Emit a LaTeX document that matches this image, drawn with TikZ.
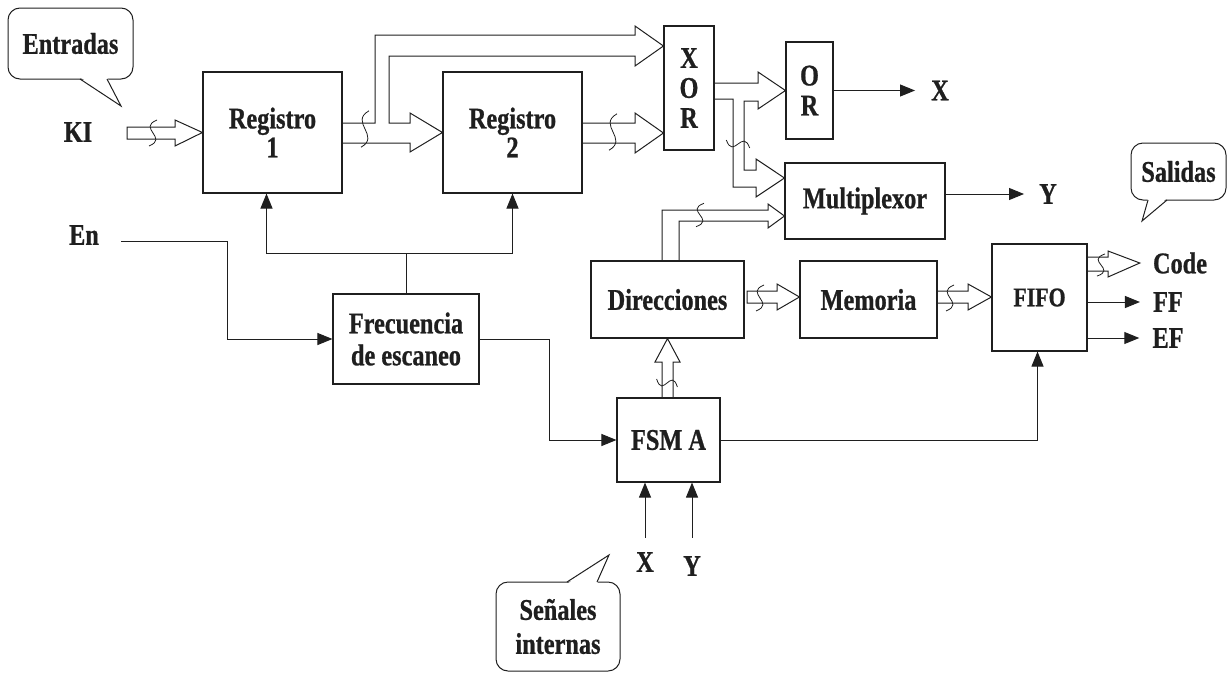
\documentclass[tikz,border=0pt]{standalone}
\usepackage{fontspec}
\setmainfont{Liberation Serif}[FakeStretch=0.81, BoldFeatures={FakeBold=0.8}]
\usetikzlibrary{arrows.meta}

\begin{document}
\begin{tikzpicture}[x=1pt, y=-1pt, color=black!88,
    font=\fontsize{30}{29}\selectfont\bfseries,
    bloque/.style={draw, line width=1.1pt, inner sep=0pt, align=center},
    etiqueta/.style={inner sep=0pt},
    globo/.style={draw, line width=1pt, rounded corners=12pt, inner sep=0pt, align=center},
    sig/.style={line width=1pt, -{Triangle[length=15pt,width=12pt]}},
    bus/.style={line width=1pt, line join=miter},
    fino/.style={line width=0.8pt},
    quiebre/.pic={\draw[fino] (4,-13) .. controls (-16,-5) and (16,5) .. (-4,13);}]
    \useasboundingbox (0,0) rectangle (1230,672);

    % Bloques
    \node[bloque, minimum width=139, minimum height=121] (reg1) at (272.5,132.5) {Registro\\1};
    \node[bloque, minimum width=139, minimum height=121] (reg2) at (512.5,132.5) {Registro\\2};
    \node[bloque, minimum width=50, minimum height=124, font=\fontsize{30}{30}\selectfont\bfseries] (xor) at (689,88) {X\\O\\R};
    \node[bloque, minimum width=47, minimum height=97, font=\fontsize{30}{30}\selectfont\bfseries] (or) at (809.5,90.5) {O\\R};
    \node[bloque, minimum width=160, minimum height=76] (mux) at (865,201) {Multiplexor};
    \node[bloque, minimum width=153, minimum height=77] (dir) at (667.5,299.5) {Direcciones};
    \node[bloque, minimum width=137, minimum height=77] (mem) at (868.5,299.5) {Memoria};
    \node[bloque, minimum width=95, minimum height=107, font=\fontsize{27}{27}\selectfont\bfseries] (fifo) at (1039.5,297.5) {FIFO};
    \node[bloque, minimum width=146, minimum height=90, font=\fontsize{30}{32}\selectfont\bfseries] (frec) at (406,339) {Frecuencia\\de escaneo};
    \node[bloque, minimum width=103, minimum height=84] (fsm) at (668.5,440) {FSM A};

    % Etiquetas de entrada y salida
    \node[etiqueta] (ki) at (78,132) {KI};
    \node[etiqueta] (en) at (84,235) {En};
    \node[etiqueta] (xo) at (940,90.5) {X};
    \node[etiqueta] (yo) at (1048,194) {Y};
    \node[etiqueta] (code) at (1180,263) {Code};
    \node[etiqueta] (ff) at (1168,302) {FF};
    \node[etiqueta] (ef) at (1168,338) {EF};
    \node[etiqueta] (xi) at (645,562) {X};
    \node[etiqueta] (yi) at (692,566) {Y};

    % Globos
    \node[globo, minimum width=125, minimum height=71] (entradas) at (70.5,43.5) {Entradas};
    \node[globo, minimum width=95, minimum height=57] (salidas) at (1178.5,171.5) {Salidas};
    \node[globo, minimum width=124, minimum height=89, font=\fontsize{30}{34}\selectfont\bfseries] (senales) at (558,626.5) {Señales\\internas};
    \fill[white] (80,77) -- (121,106) -- (107,77) -- cycle;
    \draw[line width=1pt] (80,79) -- (121,106) -- (107,79);
    \fill[white] (1148,198) -- (1142,221) -- (1167,198) -- cycle;
    \draw[line width=1pt] (1148,200) -- (1142,221) -- (1167,200);
    \fill[white] (567,584) -- (609,555) -- (597,584) -- cycle;
    \draw[line width=1pt] (567,582) -- (609,555) -- (597,582);

    % Buses
    \draw[bus] (127,127) -- (175,127) -- (175,120) -- (reg1.west) -- (175,146) -- (175,139) -- (127,139) -- cycle;
    \draw[bus] (reg1.east |- 0,123) -- (375,123) -- (375,35) -- (635,35) -- (635,26) -- (xor.west |- 0,46)
        -- (635,66) -- (635,56) -- (389,56) -- (389,123) -- (410,123) -- (410,113) -- (reg2.west)
        -- (410,152) -- (410,143) -- (reg1.east |- 0,143);
    \draw[bus] (reg2.east |- 0,123) -- (635,123) -- (635,113) -- (xor.west |- 0,133) -- (635,153) -- (635,143) -- (reg2.east |- 0,143);
    \draw[bus] (xor.east |- 0,83) -- (758,83) -- (758,72) -- (or.west) -- (758,109) -- (758,101) -- (744,101)
        -- (744,170) -- (756,170) -- (756,159) -- (mux.west |- 0,178) -- (756,197) -- (756,187) -- (733,187)
        -- (733,99) -- (xor.east |- 0,99);
    \draw[bus] (dir.north -| 662,0) -- (662,210) -- (768,210) -- (768,204) -- (mux.west |- 0,216) -- (768,228) -- (768,221) -- (679,221) -- (dir.north -| 679,0);
    \draw[bus] (fsm.north -| 662,0) -- (662,362) -- (655,362) -- (dir.south) -- (680,362) -- (673,362) -- (fsm.north -| 673,0);
    \draw[bus] (747,291) -- (777,291) -- (777,284) -- (mem.west |- 0,297) -- (777,310) -- (777,303) -- (747,303) -- cycle;
    \draw[bus] (mem.east |- 0,291) -- (968,291) -- (968,284) -- (fifo.west |- 0,297) -- (968,310) -- (968,303) -- (mem.east |- 0,303);
    \draw[bus] (fifo.east |- 0,257) -- (1108,257) -- (1108,251) -- ([xshift=-13]code.west) -- (1108,277) -- (1108,271) -- (fifo.east |- 0,271);

    % Marcas de bus
    \pic at (153,133) {quiebre};
    \pic[yscale=1.4] at (365,129) {quiebre};
    \pic[yscale=1.4] at (613,132) {quiebre};
    \pic at (760,298) {quiebre};
    \pic at (950,298) {quiebre};
    \pic[yscale=0.85] at (1101,265) {quiebre};
    \pic[yscale=0.9] at (700,215) {quiebre};
    \pic[rotate=90, yscale=0.9] at (738,144) {quiebre};
    \pic[rotate=90, yscale=0.8] at (667,383) {quiebre};

    % Senales
    \coordinate (enin) at (121,241);
    \draw[sig] (enin) -- (227,241) |- (frec.west);
    \draw[sig] (frec.north) -- ++(0,-40) coordinate (reloj) -| ([xshift=-6]reg1.south);
    \draw[sig] (reloj) -| (reg2.south);
    \draw[sig] (frec.east) -- (549,339) |- (fsm.west);
    \draw[sig] (or.east) -- ([xshift=-16]xo.west);
    \draw[sig] (yo.west -| mux.east) -- ([xshift=-15]yo.west);
    \draw[sig] (ff.west -| fifo.east) -- ([xshift=-13]ff.west);
    \draw[sig] (ef.west -| fifo.east) -- ([xshift=-13]ef.west);
    \draw[sig] (fsm.east) -| ([xshift=-2]fifo.south);
    \draw[sig] ([yshift=14]xi.north) -- (xi.north |- fsm.south);
    \draw[sig] ([yshift=18]yi.north) -- (yi.north |- fsm.south);
\end{tikzpicture}
\end{document}
